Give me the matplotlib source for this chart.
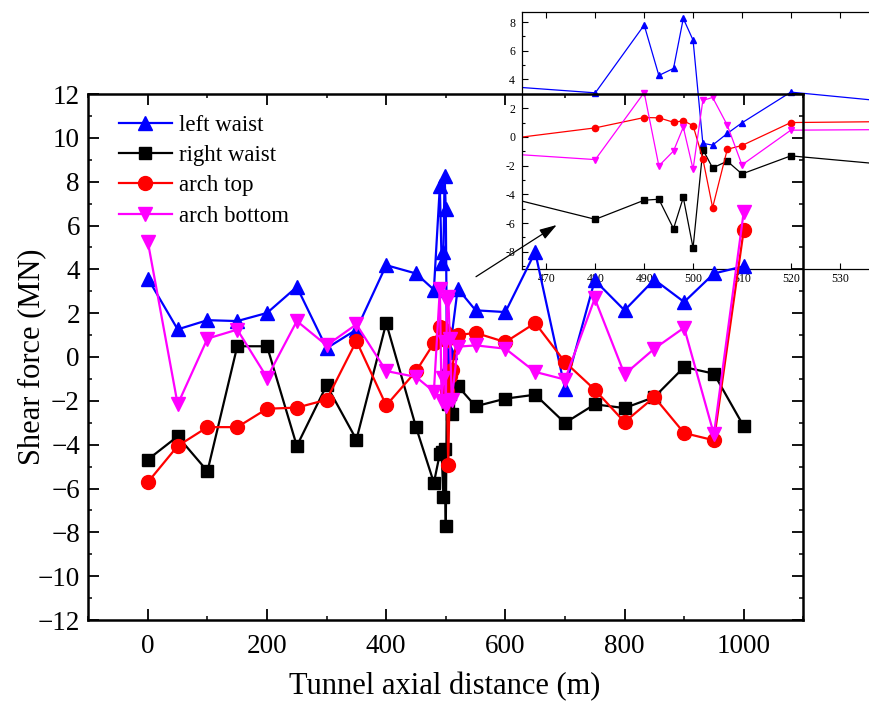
import matplotlib
matplotlib.use('Agg')
import matplotlib.pyplot as plt
from matplotlib.ticker import MultipleLocator, FuncFormatter

plt.rcParams['font.family'] = ['Liberation Serif', 'DejaVu Serif']

# distance along the tunnel (m)
distance = [0, 50, 100, 150, 200, 250, 300, 350, 400, 450,
            480, 490, 493, 496, 498, 500, 502, 504, 507, 510, 520,
            550, 600, 650, 700, 750, 800, 850, 900, 950, 1000]

# shear force (MN)
left_waist = [3.58, 1.26, 1.68, 1.64, 2.01, 3.20, 0.40, 1.25, 4.19, 3.81,
              3.07, 7.79, 4.28, 4.77, 8.25, 6.74, -0.45, -0.57, 0.24, 0.98, 3.12,
              2.13, 2.05, 4.79, -1.44, 3.50, 2.13, 3.53, 2.51, 3.81, 4.14]
right_waist = [-4.68, -3.62, -5.21, 0.49, 0.49, -4.06, -1.29, -3.77, 1.55, -3.20,
               -5.74, -4.41, -4.34, -6.39, -4.22, -7.73, -0.88, -2.16, -1.69, -2.58, -1.32,
               -2.25, -1.90, -1.72, -3.01, -2.16, -2.33, -1.83, -0.46, -0.76, -3.16]
arch_top = [-5.71, -4.06, -3.20, -3.20, -2.36, -2.31, -1.95, 0.73, -2.21, -0.65,
            0.63, 1.35, 1.33, 1.02, 1.12, 0.79, -1.53, -4.92, -0.86, -0.60, 1.00,
            1.10, 0.68, 1.55, -0.23, -1.49, -2.97, -1.83, -3.47, -3.80, 5.79]
arch_bottom = [5.25, -2.16, 0.84, 1.25, -0.94, 1.64, 0.53, 1.49, -0.64, -0.91,
               -1.58, 3.09, -2.02, -0.98, 0.68, -2.25, 2.54, 2.75, 0.82, -1.95, 0.47,
               0.53, 0.38, -0.68, -1.03, 2.67, -0.79, 0.38, 1.34, -3.53, 6.62]

labels = ['left waist', 'right waist', 'arch top', 'arch bottom']
values = [left_waist, right_waist, arch_top, arch_bottom]
colors = ['#0000ff', '#000000', '#ff0000', '#ff00ff']
markers = ['^', 's', 'o', 'v']
main_ms = [10.5, 8, 10, 10.5]
inset_ms = [5, 4, 4.5, 5]

fig = plt.figure(figsize=(8.69, 7.02), dpi=100)
fig.patch.set_facecolor('white')

# main axes (transparent so the inset behind it shows through)
ax = fig.add_axes([88.3 / 869, 1 - 620 / 702, 715 / 869, 526 / 702])
ax.set_facecolor('none')
ax.set_zorder(2)

for lab, y, c, m, ms in zip(labels, values, colors, markers, main_ms):
    ax.plot(distance, y, color=c, marker=m, markersize=ms, lw=1.6, label=lab, clip_on=False)

ax.set_xlim(-100, 1100)
ax.set_ylim(-12, 12)
ax.xaxis.set_major_locator(MultipleLocator(200))
ax.xaxis.set_minor_locator(MultipleLocator(100))
ax.yaxis.set_major_locator(MultipleLocator(2))
ax.yaxis.set_minor_locator(MultipleLocator(1))
ax.tick_params(which='both', direction='in', top=True, right=True, labelsize=19.5)
ax.tick_params(which='major', length=8, width=1.3)
ax.tick_params(which='minor', length=3, width=1.1)
ax.tick_params(axis='y', pad=6)
ax.tick_params(axis='x', pad=10)
for sp in ax.spines.values():
    sp.set_linewidth(1.8)

ax.set_xlabel('Tunnel axial distance (m)', fontsize=22)
ax.set_ylabel('Shear force (MN)', fontsize=22)
ax.xaxis.set_label_coords(0.499, -0.098)
ax.yaxis.set_label_coords(-0.059, 0.5)

ax.legend(loc='upper left', bbox_to_anchor=(0.043, 0.960), frameon=False,
          fontsize=16.5, handlelength=2.3, handletextpad=0.3, labelspacing=0.4,
          borderpad=0, borderaxespad=0)

# zoomed inset, partly running off the figure edge
ins = fig.add_axes([522 / 869, 1 - 269 / 702, 356.8 / 869, 257 / 702])
ins.set_zorder(1)
for y, c, m, ms in zip(values, colors, markers, inset_ms):
    ins.plot(distance, y, color=c, marker=m, markersize=ms, lw=0.9)
ins.set_xlim(465, 538)
ins.set_ylim(-9.2, 8.7)
ins.xaxis.set_major_locator(MultipleLocator(10))
ins.yaxis.set_major_locator(MultipleLocator(2))
ins.yaxis.set_minor_locator(MultipleLocator(1))
ins.yaxis.set_major_formatter(FuncFormatter(lambda v, p: '%d' % v))
ins.tick_params(which='both', direction='in', top=True, labelsize=8.5, width=0.8)
ins.tick_params(which='major', length=4)
ins.tick_params(which='minor', length=2)
ins.tick_params(axis='x', pad=3)
ins.tick_params(axis='y', pad=5)
for sp in ins.spines.values():
    sp.set_linewidth(0.9)

ax.annotate('', xy=(556.7 / 869, 1 - 225 / 702), xytext=(476 / 869, 1 - 276.7 / 702),
            xycoords='figure fraction', textcoords='figure fraction',
            arrowprops=dict(arrowstyle='-|>,head_length=0.7,head_width=0.22',
                            color='black', lw=0.9, mutation_scale=15,
                            shrinkA=0, shrinkB=0))

fig.savefig('out.png', dpi=100)
